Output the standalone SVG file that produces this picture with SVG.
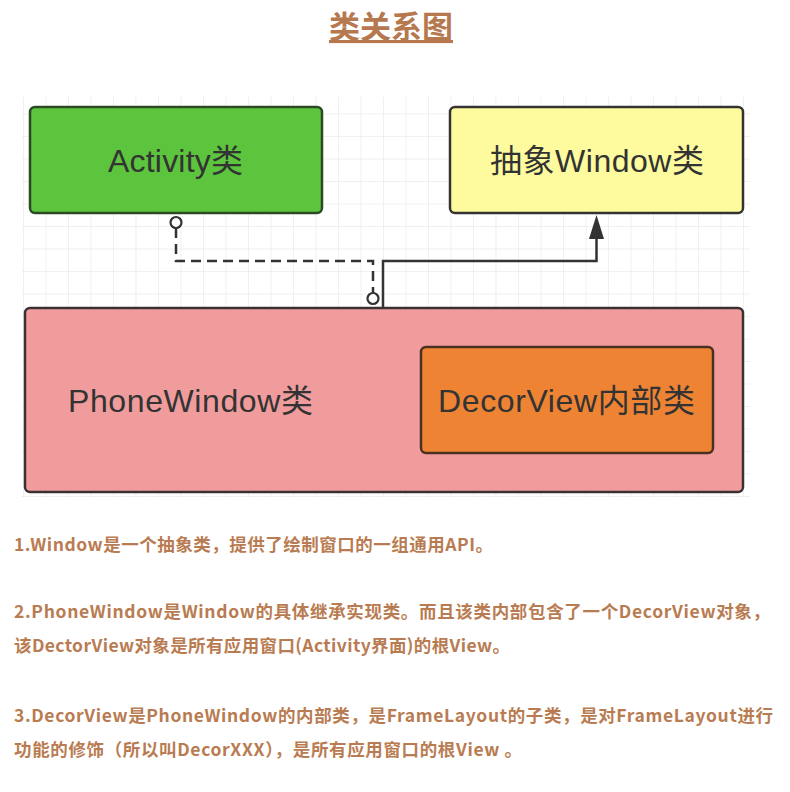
<svg xmlns="http://www.w3.org/2000/svg" width="790" height="792" viewBox="0 0 790 792">
<defs>
<style>
.lbl{font-family:"Liberation Sans","Noto Sans CJK SC",sans-serif;font-size:32px;fill:#333;}
.note{font-family:"Noto Sans CJK SC","Liberation Sans",sans-serif;font-size:17.5px;font-weight:bold;fill:#b97c52;}
.box{stroke-width:2.5;}
.ln{fill:none;stroke:#333;stroke-width:2.5;}
</style>
<pattern id="grid" x="23" y="91" width="22.5" height="22.5" patternUnits="userSpaceOnUse">
<path d="M0 0H22.5M0 0V22.5" fill="none" stroke="#e2e2e2" stroke-width="1"/>
</pattern>
</defs>
<rect width="790" height="792" fill="#fff"/>
<text x="391" y="38" text-anchor="middle" style="font-family:'Noto Sans CJK SC',sans-serif;font-size:31px;font-weight:bold;fill:#b5784f;text-decoration:underline;">类关系图</text>
<rect x="22" y="97" width="728" height="400" fill="url(#grid)"/>
<g id="connectors">
<path class="ln" d="M176 228V261H373V293" stroke-dasharray="10,6"/>
<circle cx="176" cy="222.5" r="5.5" fill="#fff" stroke="#333" stroke-width="2.2"/>
<circle cx="373" cy="298.5" r="5.5" fill="#fff" stroke="#333" stroke-width="2.2"/>
<path class="ln" d="M383 308V261H596.5V239"/>
<path d="M589 239L596.5 215L604 239Z" fill="#333"/>
</g>
<g id="activity">
<rect class="box" x="30" y="107" width="292" height="106" rx="5" fill="#5cc43d" stroke="#2c4a22"/>
<text class="lbl" x="108" y="172" textLength="135">Activity类</text>
</g>
<g id="window">
<rect class="box" x="450" y="107" width="293" height="106" rx="5" fill="#fefb9e" stroke="#333"/>
<text class="lbl" x="490" y="172" textLength="214">抽象Window类</text>
</g>
<g id="phonewindow">
<rect class="box" x="25" y="308" width="718" height="184" rx="5" fill="#f09c9d" stroke="#3a3232"/>
<text class="lbl" x="68" y="412" textLength="245">PhoneWindow类</text>
</g>
<g id="decorview">
<rect class="box" x="421" y="347" width="292" height="106" rx="5" fill="#ee8433" stroke="#4a3020"/>
<text class="lbl" x="438" y="412" textLength="257">DecorView内部类</text>
</g>
<g id="notes">
<text class="note" x="14" y="551" textLength="479">1.Window是一个抽象类，提供了绘制窗口的一组通用API。</text>
<text class="note" x="14" y="618" textLength="756">2.PhoneWindow是Window的具体继承实现类。而且该类内部包含了一个DecorView对象，</text>
<text class="note" x="14" y="652" textLength="496">该DectorView对象是所有应用窗口(Activity界面)的根View。</text>
<text class="note" x="14" y="722" textLength="759">3.DecorView是PhoneWindow的内部类，是FrameLayout的子类，是对FrameLayout进行</text>
<text class="note" x="14" y="756" textLength="508">功能的修饰（所以叫DecorXXX），是所有应用窗口的根View 。</text>
</g>
</svg>
